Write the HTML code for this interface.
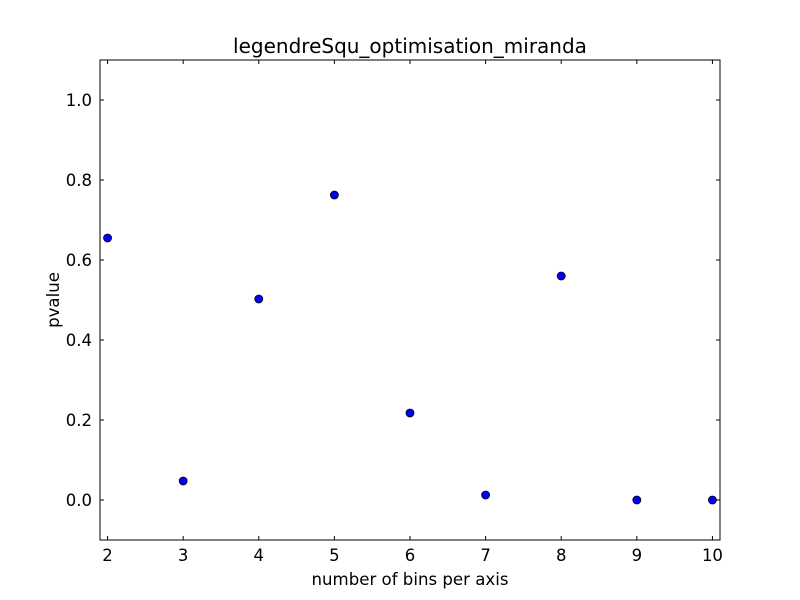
<!DOCTYPE html>
<html><head><meta charset="utf-8"><style>body{margin:0;background:#fff}svg{display:block}text{font-family:"DejaVu Sans","Liberation Sans",sans-serif}</style></head>
<body>
<svg id="chart" width="800" height="600">
<rect width="800" height="600" fill="#fff"/>
<text x="410" y="53" font-size="20" text-anchor="middle">legendreSqu_optimisation_miranda</text>
<text x="410" y="585" font-size="16.6" text-anchor="middle">number of bins per axis</text>
<text transform="translate(59,300) rotate(-90)" font-size="16.6" text-anchor="middle">pvalue</text>
<g id="ticks"></g>
<g id="points"></g>
<rect x="100" y="60" width="620" height="480" fill="none" stroke="#000" stroke-width="1"/>
</svg>
<script>
const categories = [2,3,4,5,6,7,8,9,10];
const pvalues = [0.655,0.0475,0.5025,0.7625,0.2175,0.0125,0.56,0,0];
const xTicks = [2,3,4,5,6,7,8,9,10];
const yTicks = [0.0,0.2,0.4,0.6,0.8,1.0];
const L=100,R=720,T=60,B=540,xmin=1.9,xmax=10.1,ymin=-0.1,ymax=1.1;
const xs=v=>L+(v-xmin)/(xmax-xmin)*(R-L);
const ys=v=>B-(v-ymin)/(ymax-ymin)*(B-T);
const NS="http://www.w3.org/2000/svg";
const tg=document.getElementById('ticks'), pg=document.getElementById('points');
function mk(tag,attrs,parent){const e=document.createElementNS(NS,tag);for(const k in attrs)e.setAttribute(k,attrs[k]);parent.appendChild(e);return e;}
xTicks.forEach(t=>{const x=xs(t);
 const a=mk('line',{x1:x,x2:x,y1:B,y2:B-4,stroke:'#000'},tg);
 
 
 const b=mk('line',{x1:x,x2:x,y1:T,y2:T+4,stroke:'#000'},tg);
 
 
 const l=mk('text',{x:x,y:B+21,'font-size':16.5,'text-anchor':'middle'},tg);l.textContent=t;
 
 
});
yTicks.forEach(t=>{const y=ys(t);
 const a=mk('line',{x1:L,x2:L+4,y1:y,y2:y,stroke:'#000'},tg);
 
 
 const b=mk('line',{x1:R,x2:R-4,y1:y,y2:y,stroke:'#000'},tg);
 
 
 const l=mk('text',{x:L-8,y:y+6,'font-size':16.5,'text-anchor':'end'},tg);l.textContent=t.toFixed(1);
 
 
});
categories.forEach((c,i)=>{
 const p=mk('circle',{cx:xs(c),cy:ys(pvalues[i]),r:4,fill:'#0000ff',stroke:'#000','stroke-width':0.8},pg);
 
 
});
</script>
</body></html>
